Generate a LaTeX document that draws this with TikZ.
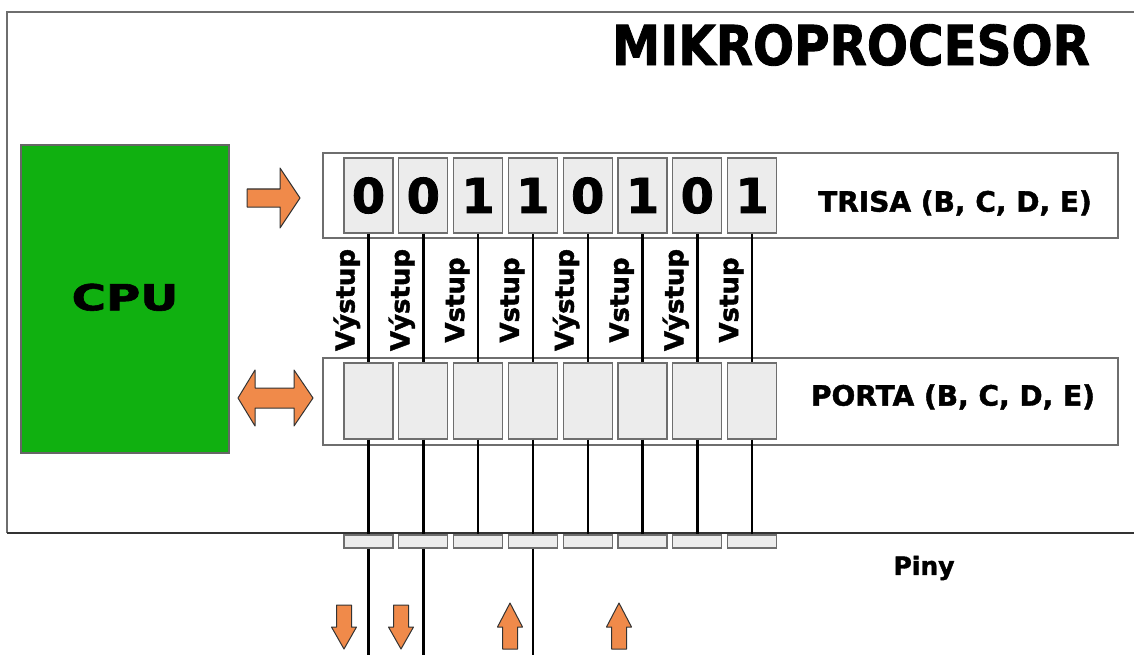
\documentclass[tikz,border=0pt]{standalone}
\usepackage{fontspec}
\setmainfont{DejaVu Sans}[BoldFeatures={FakeBold=1.6}]
\definecolor{cpugreen}{RGB}{16,176,16}
\definecolor{arroworange}{RGB}{240,138,74}
\definecolor{cellgray}{RGB}{236,236,236}
\definecolor{framegray}{RGB}{110,110,110}

\begin{document}
\begin{tikzpicture}[x=1pt, y=-1pt,
    cell/.style = {draw=framegray, fill=cellgray, line width=1.2pt, minimum width=49pt,
                   inner sep=0pt, font=\fontsize{48}{48}\selectfont\bfseries},
    regbox/.style = {draw=framegray, fill=white, line width=1.5pt, minimum width=795pt,
                     minimum height=85pt, inner sep=0pt},
    dirlabel/.style = {rotate=90, anchor=base, font=\fontsize{26}{26}\selectfont\bfseries},
    reglabel/.style = {font=\fontsize{28}{28}\selectfont\bfseries},
    fatarrow/.style = {fill=arroworange, draw=black!80, line width=1pt, line join=round},
    wire/.style = {line width=2.4pt}]
    \useasboundingbox (0,0) rectangle (1134,655);
    \coordinate (bottom) at (0,655);

    % frame of the chip
    \draw[framegray, line width=1.5pt] (1134,12) -- (7,12) -- (7,533);
    \draw[black!80, line width=2pt] (7,533) -- (1134,533);
    \node[font=\fontsize{55}{55}\selectfont\bfseries] (title) at (851,45)
        {\scalebox{0.88}[1]{MIKROPROCESOR}};

    \node[draw=black!60, fill=cpugreen, line width=1.2pt, minimum width=208pt,
          minimum height=308pt, inner sep=0pt, font=\fontsize{36}{36}\selectfont\bfseries]
        (cpu) at (125,299) {\raisebox{4pt}{\scalebox{1.3}[1]{CPU}}};

    \node[regbox] (trisa) at (720.5,195.5) {};
    \node[regbox, minimum height=87pt] (porta) at (720.5,401.5) {};
    \node[reglabel] (trisalabel) at (955,203) {TRISA (B, C, D, E)};
    \node[reglabel] (portalabel) at (953,397) {PORTA (B, C, D, E)};
    \node[font=\fontsize{25}{25}\selectfont\bfseries] (piny) at (924,568) {Piny};

    \foreach \bit [count=\i] in {0,0,1,1,0,1,0,1} {
        \node[cell, minimum height=75pt] (t\i) at ({368.5+54.8*(\i-1)},195.5) {\bit};
        \node[cell, minimum height=76pt] (p\i) at ({368.5+54.8*(\i-1)},401) {};
        \node[cell, minimum height=13pt] (n\i) at ({368.5+54.8*(\i-1)},541.5) {};
        \draw[wire] (t\i) -- (p\i);
        \draw[wire] (p\i) -- (n\i);
    }
    \foreach \lab [count=\i] in {Výstup,Výstup,Vstup,Vstup,Výstup,Vstup,Výstup,Vstup}
        \node[dirlabel] (d\i) at ({368.5+54.8*(\i-1)-14},300) {\lab};
    \foreach \i in {1,2,4}
        \draw[wire] (n\i) -- (n\i |- bottom);

    % orange arrows
    \filldraw[fatarrow] (247,189) -- (280,189) -- (280,168) -- (300,198)
        -- (280,228) -- (280,207) -- (247,207) -- cycle;
    \filldraw[fatarrow] (238,398) -- (255,370) -- (255,388) -- (294,388) -- (294,370)
        -- (313,398) -- (294,426) -- (294,408) -- (255,408) -- (255,426) -- cycle;
    \foreach \x in {344,401}
        \filldraw[fatarrow] ({\x-7.5},605) -- ({\x+7.5},605) -- ({\x+7.5},627)
            -- ({\x+12.5},627) -- (\x,649) -- ({\x-12.5},627) -- ({\x-7.5},627) -- cycle;
    \foreach \x in {510,619}
        \filldraw[fatarrow] (\x,603) -- ({\x+12.5},627) -- ({\x+7.5},627)
            -- ({\x+7.5},649) -- ({\x-7.5},649) -- ({\x-7.5},627) -- ({\x-12.5},627) -- cycle;
\end{tikzpicture}
\end{document}
